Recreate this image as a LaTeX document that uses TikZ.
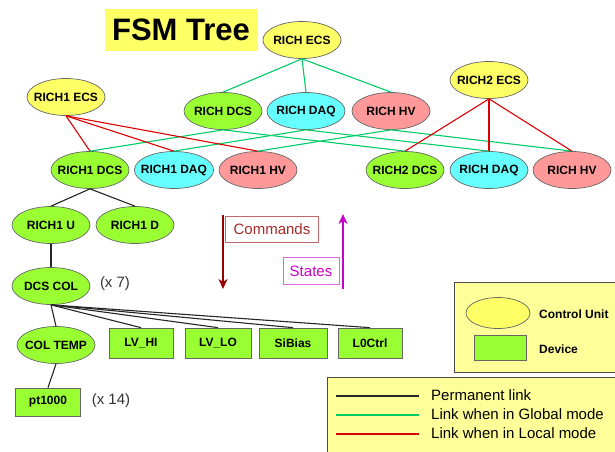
\documentclass[tikz,border=0pt]{standalone}
\usepackage{fontspec}
\setmainfont{Liberation Sans}
\usetikzlibrary{shapes.geometric,arrows.meta}
\definecolor{cuyellow}{RGB}{255,255,102}
\definecolor{legyellow}{RGB}{255,255,153}
\definecolor{dcsgreen}{RGB}{153,255,51}
\definecolor{daqcyan}{RGB}{102,255,255}
\definecolor{hvpink}{RGB}{255,153,153}
\definecolor{globalgreen}{RGB}{0,204,102}
\definecolor{localred}{RGB}{221,0,0}
\definecolor{cmdred}{RGB}{153,0,0}
\definecolor{cmdtext}{RGB}{170,40,40}
\definecolor{statesmag}{RGB}{204,0,204}

\begin{document}
\begin{tikzpicture}
  [x=1pt,y=-1pt,every node/.style={font=\fontsize{12}{14}\selectfont\bfseries,inner sep=0pt},
   unit/.style={ellipse,draw=black!60,line width=0.7pt,inner xsep=-5pt,minimum width=78pt,minimum height=37pt},
   dev/.style={rectangle,draw=black!60,line width=0.7pt,fill=dcsgreen,minimum width=64pt,minimum height=30pt},
   note/.style={font=\fontsize{15}{18}\selectfont,text=black!80}]
 \tikzset{permlink/.style={black!85,line width=1.1pt},
   globallink/.style={globalgreen,line width=1.1pt},
   locallink/.style={localred,line width=1.1pt},
   flowarrow/.style={line width=1.6pt,-{Stealth[length=10pt,width=9pt,inset=3pt]}}}
 \useasboundingbox (0,0) rectangle (615,451);

 % title
 \node[fill=cuyellow,minimum width=153pt,minimum height=42pt,font=\fontsize{31}{36}\selectfont\bfseries] (title) at (181,30) {FSM Tree};

 % control units
 \node[unit,fill=cuyellow] (ecs) at (302,40) {RICH ECS};
 \node[unit,fill=cuyellow] (r1ecs) at (66,97) {RICH1 ECS};
 \node[unit,fill=cuyellow] (r2ecs) at (489,80) {RICH2 ECS};
 \node[unit,fill=dcsgreen] (dcs) at (223,111) {RICH DCS};
 \node[unit,fill=daqcyan] (daq) at (306,111) {RICH DAQ};
 \node[unit,fill=hvpink] (hv) at (391,111) {RICH HV};
 \node[unit,fill=dcsgreen] (r1dcs) at (90,170) {RICH1 DCS};
 \node[unit,fill=daqcyan] (r1daq) at (174,170) {RICH1 DAQ};
 \node[unit,fill=hvpink] (r1hv) at (258,170) {RICH1 HV};
 \node[unit,fill=dcsgreen] (r2dcs) at (405,170) {RICH2 DCS};
 \node[unit,fill=daqcyan] (r2daq) at (489,170) {RICH DAQ};
 \node[unit,fill=hvpink] (r2hv) at (572,170) {RICH HV};
 \node[unit,fill=dcsgreen] (r1u) at (51,225) {RICH1 U};
 \node[unit,fill=dcsgreen] (r1d) at (135,225) {RICH1 D};
 \node[unit,fill=dcsgreen] (dcscol) at (51,286) {DCS COL};
 \node[unit,fill=dcsgreen] (coltemp) at (56,345) {COL TEMP};

 % devices
 \node[dev] (lvhi) at (141,343) {LV\_HI};
 \node[dev,minimum width=66pt] (lvlo) at (218,343) {LV\_LO};
 \node[dev,minimum width=68pt] (sibias) at (293,343) {SiBias};
 \node[dev] (lzctrl) at (370,343) {L0Ctrl};
 \node[dev,minimum width=65pt,minimum height=28pt] (pt) at (48,402) {pt1000};

 \node[note] (mult7) at (115,284) {(x 7)};
 \node[note] (mult14) at (111,401) {(x 14)};

 \foreach \from/\to in {ecs/dcs,ecs/daq,ecs/hv,dcs/r1dcs,dcs/r2dcs,daq/r1daq,daq/r2daq,hv/r1hv,hv/r2hv}
    \draw[globallink] (\from.south) -- (\to.north);
 \foreach \from/\to in {r1ecs/r1dcs,r1ecs/r1daq,r1ecs/r1hv,r2ecs/r2dcs,r2ecs/r2daq,r2ecs/r2hv}
    \draw[locallink] (\from.south) -- (\to.north);
 \foreach \from/\to in {r1dcs/r1u,r1dcs/r1d,r1u/dcscol,dcscol/coltemp,dcscol/lvhi,dcscol/lvlo,dcscol/sibias,dcscol/lzctrl,coltemp/pt}
    \draw[permlink] (\from.south) -- (\to.north);

 % commands and states
 \coordinate (cmdtop) at (223,215);
 \coordinate (cmdbot) at (223,289);
 \coordinate (stbot) at (343,289);
 \coordinate (sttop) at (343,214);
 \draw[flowarrow,cmdred] (cmdtop) -- (cmdbot);
 \draw[flowarrow,statesmag] (stbot) -- (sttop);
 \node[draw=cmdtext!70,line width=0.8pt,text=cmdtext,font=\fontsize{15}{18}\selectfont,minimum width=93pt,minimum height=26pt] (commands) at (272,229) {Commands};
 \node[draw=statesmag!60,line width=0.8pt,text=statesmag,font=\fontsize{15}{18}\selectfont,minimum width=56pt,minimum height=27pt] (states) at (311,271) {States};

 % legend
 \node[draw=black!70,line width=0.8pt,fill=legyellow,minimum width=166pt,minimum height=90pt] (legunits) at (537,327) {};
 \node[unit,fill=cuyellow,minimum width=64pt,minimum height=31pt] (legcu) at (498,313) {};
 \node[dev,minimum width=52pt,minimum height=25pt] (legdev) at (500,348) {};
 \node[anchor=west] (legcutext) at (539,314) {Control Unit};
 \node[anchor=west] (legdevtext) at (539,349) {Device};

 \node[draw=black!70,line width=0.8pt,fill=legyellow,minimum width=293pt,minimum height=78pt] (leglinks) at (473.5,416) {};
 \coordinate (pa) at (336,396); \coordinate (pb) at (419,396);
 \coordinate (ga) at (336,415); \coordinate (gb) at (419,415);
 \coordinate (la) at (336,434); \coordinate (lb) at (419,434);
 \draw[permlink] (pa) -- (pb);
 \draw[globallink] (ga) -- (gb);
 \draw[locallink] (la) -- (lb);
 \node[anchor=west,font=\fontsize{15}{18}\selectfont] (permtext) at (431,395) {Permanent link};
 \node[anchor=west,font=\fontsize{15}{18}\selectfont] (globaltext) at (431,414) {Link when in Global mode};
 \node[anchor=west,font=\fontsize{15}{18}\selectfont] (localtext) at (431,433) {Link when in Local mode};

\end{tikzpicture}
\end{document}
